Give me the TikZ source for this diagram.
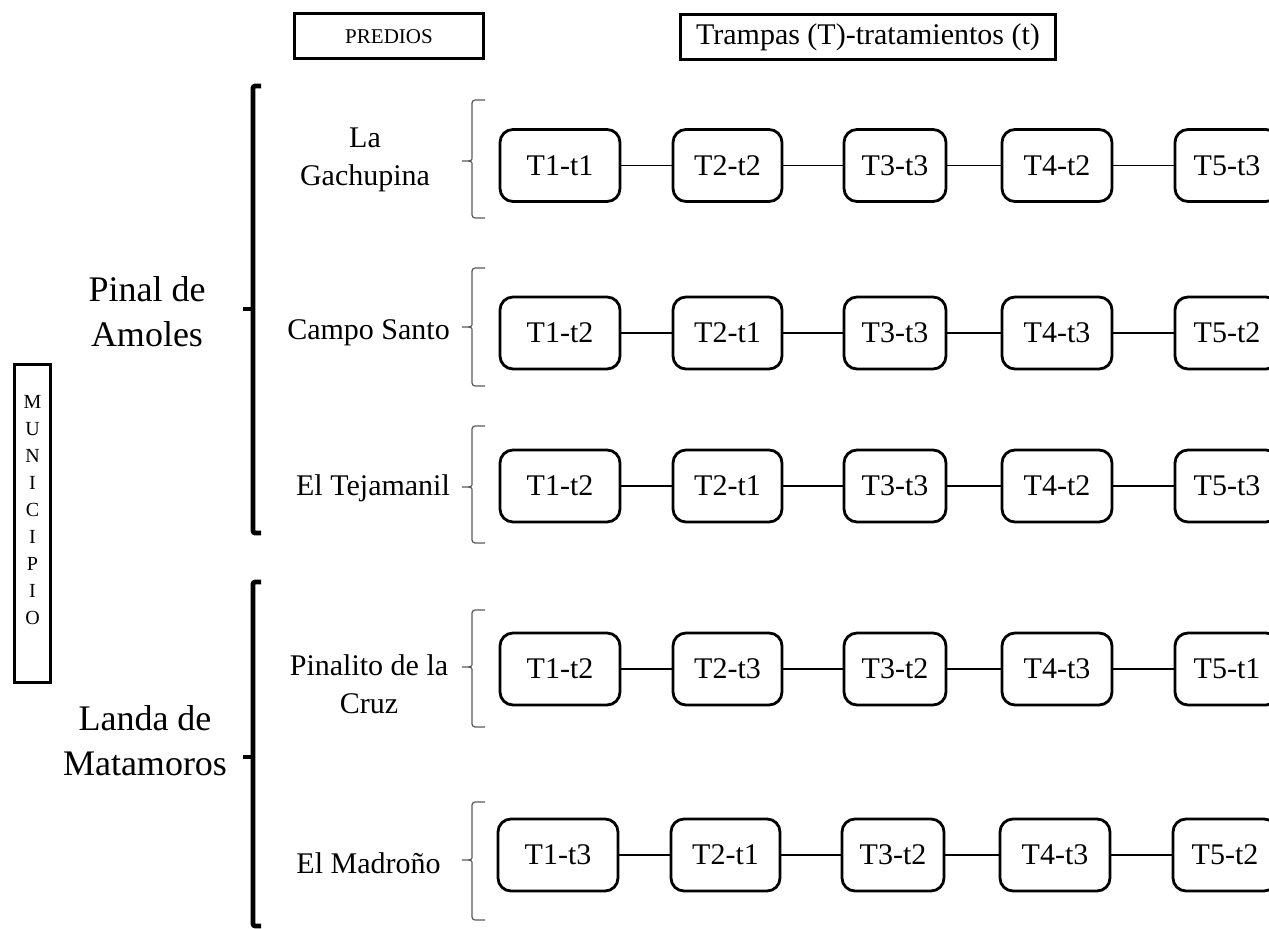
\documentclass[tikz,border=0pt]{standalone}
\usepackage{fontspec}
\setmainfont{Liberation Serif}

\begin{document}
\begin{tikzpicture}[x=0.5pt,y=-0.5pt,
  caja/.style={draw,line width=1.4pt,rounded corners=6.5pt,minimum height=36pt,inner sep=0pt,font=\fontsize{15}{19}\selectfont},
  c1/.style={minimum width=60pt},
  c2/.style={minimum width=54.5pt},
  c3/.style={minimum width=51pt},
  c4/.style={minimum width=55pt},
  c5/.style={minimum width=52pt},
  enlace/.style={line width=0.6pt},
  llave/.style={line width=0.6pt,black!65,rounded corners=1.5pt},
  corchete/.style={line width=2.3pt,rounded corners=1pt},
  predio/.style={align=center,font=\fontsize{15}{19}\selectfont},
  municipio/.style={align=center,font=\fontsize{18}{22.5}\selectfont},
  titulo/.style={draw,line width=1.5pt,inner sep=0pt}]

\useasboundingbox (0,0) rectangle (1269,929);

% encabezados
\node[titulo,minimum width=94.5pt,minimum height=22.5pt,font=\fontsize{10.5}{12}\selectfont] (predios) at (389,36.5) {PREDIOS};
\node[titulo,minimum width=187.5pt,minimum height=22.5pt,font=\fontsize{15}{18}\selectfont] (trampas) at (868,37) {Trampas (T)-tratamientos (t)};

\node[titulo,minimum width=18pt,minimum height=159pt] (caja_mun) at (32.5,523.5) {};
\node[align=center,font=\fontsize{10}{13.5}\selectfont] (letras) at (32.5,510.5) {M\\U\\N\\I\\C\\I\\P\\I\\O};

% municipios
\node[municipio] (pinal) at (147,312) {Pinal de\\Amoles};
\node[municipio] (landa) at (145,741) {Landa de\\Matamoros};

\draw[corchete] (261,86) -- (253,86) -- (253,533) -- (261,533);
\draw[corchete] (253,309) -- (243,309);
\draw[corchete] (261,582) -- (253,582) -- (253,926) -- (261,926);
\draw[corchete] (253,757) -- (243,757);

% predios
\node[predio] (gachupina) at (365,160) {La\\Gachupina};
\node[predio] (santo) at (368.5,333) {Campo Santo};
\node[predio] (tejamanil) at (373,488) {El Tejamanil};
\node[predio] (pinalito) at (369,684) {Pinalito de la\\Cruz};
\node[predio] (madrono) at (368.5,863) {El Madroño};

\draw[llave] (485,100) -- (472,100) -- (472,154) .. controls (472,161) .. (460,161) .. controls (472,161) .. (472,168) -- (472,218) -- (485,218);
\draw[llave] (485,268) -- (472,268) -- (472,320) .. controls (472,327) .. (460,327) .. controls (472,327) .. (472,334) -- (472,386) -- (485,386);
\draw[llave] (485,426) -- (472,426) -- (472,480) .. controls (472,487) .. (460,487) .. controls (472,487) .. (472,494) -- (472,543) -- (485,543);
\draw[llave] (485,610) -- (472,610) -- (472,660) .. controls (472,667) .. (460,667) .. controls (472,667) .. (472,674) -- (472,727) -- (485,727);
\draw[llave] (485,802) -- (472,802) -- (472,853) .. controls (472,860) .. (460,860) .. controls (472,860) .. (472,867) -- (472,920) -- (485,920);

% trampas - La Gachupina
\node[caja,c1] (g1) at (560,165.5) {T1-t1};
\node[caja,c2] (g2) at (727.5,165.5) {T2-t2};
\node[caja,c3] (g3) at (895,165.5) {T3-t3};
\node[caja,c4] (g4) at (1057,165.5) {T4-t2};
\node[caja,c5] (g5) at (1227,165.5) {T5-t3};
\draw[enlace] (g1) -- (g2);
\draw[enlace] (g2) -- (g3);
\draw[enlace] (g3) -- (g4);
\draw[enlace] (g4) -- (g5);

% trampas - Campo Santo
\node[caja,c1] (s1) at (560,333) {T1-t2};
\node[caja,c2] (s2) at (727.5,333) {T2-t1};
\node[caja,c3] (s3) at (895,333) {T3-t3};
\node[caja,c4] (s4) at (1057,333) {T4-t3};
\node[caja,c5] (s5) at (1227,333) {T5-t2};
\draw[enlace] (s1) -- (s2);
\draw[enlace] (s2) -- (s3);
\draw[enlace] (s3) -- (s4);
\draw[enlace] (s4) -- (s5);

% trampas - El Tejamanil
\node[caja,c1] (j1) at (560,486) {T1-t2};
\node[caja,c2] (j2) at (727.5,486) {T2-t1};
\node[caja,c3] (j3) at (895,486) {T3-t3};
\node[caja,c4] (j4) at (1057,486) {T4-t2};
\node[caja,c5] (j5) at (1227,486) {T5-t3};
\draw[enlace] (j1) -- (j2);
\draw[enlace] (j2) -- (j3);
\draw[enlace] (j3) -- (j4);
\draw[enlace] (j4) -- (j5);

% trampas - Pinalito de la Cruz
\node[caja,c1] (p1) at (560,669) {T1-t2};
\node[caja,c2] (p2) at (727.5,669) {T2-t3};
\node[caja,c3] (p3) at (895,669) {T3-t2};
\node[caja,c4] (p4) at (1057,669) {T4-t3};
\node[caja,c5] (p5) at (1227,669) {T5-t1};
\draw[enlace] (p1) -- (p2);
\draw[enlace] (p2) -- (p3);
\draw[enlace] (p3) -- (p4);
\draw[enlace] (p4) -- (p5);

% trampas - El Madrono
\node[caja,c1] (m1) at (558,855) {T1-t3};
\node[caja,c2] (m2) at (725.5,855) {T2-t1};
\node[caja,c3] (m3) at (893,855) {T3-t2};
\node[caja,c4] (m4) at (1055,855) {T4-t3};
\node[caja,c5] (m5) at (1225,855) {T5-t2};
\draw[enlace] (m1) -- (m2);
\draw[enlace] (m2) -- (m3);
\draw[enlace] (m3) -- (m4);
\draw[enlace] (m4) -- (m5);

\end{tikzpicture}
\end{document}
